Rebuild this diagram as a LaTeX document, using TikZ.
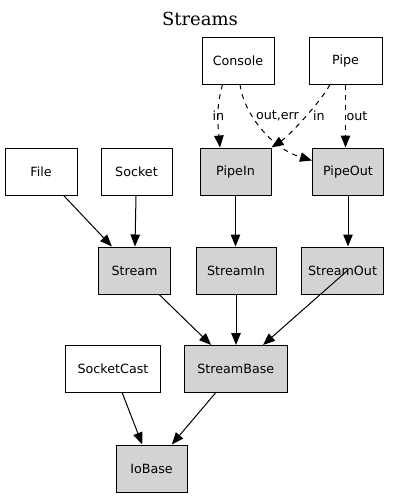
\documentclass[tikz,border=0pt]{standalone}
\usepackage{fontspec}
\setmainfont{DejaVu Sans}
\newfontfamily\titlefont{DejaVu Serif}
\usetikzlibrary{arrows.meta}
\definecolor{boxgray}{HTML}{D3D3D3}
\begin{document}
\begin{tikzpicture}[x=1pt,y=-1pt,
  box/.style={draw=black,line width=1pt,minimum height=47pt,inner sep=0pt,font=\fontsize{12.7}{15}\selectfont},
  plain/.style={box,fill=white},
  cls/.style={box,fill=boxgray},
  arr/.style={-{Triangle[length=12pt,width=9.5pt]},line width=1pt},
  dsh/.style={arr,dash pattern=on 5pt off 5pt},
  lbl/.style={font=\fontsize{12.7}{15}\selectfont,inner sep=0pt}]
\useasboundingbox (0,0) rectangle (400,499);
\node[font=\titlefont\fontsize{18}{20}\selectfont] (title) at (200,19) {Streams};
% row 1
\node[plain,minimum width=72] (console) at (238,60.5) {Console};
\node[plain,minimum width=73] (pipe) at (345.5,60.5) {Pipe};
% row 2
\node[plain,minimum width=72] (file) at (41,171.5) {File};
\node[plain,minimum width=71] (socket) at (136.5,171.5) {Socket};
\node[cls,minimum width=71] (pipein) at (235.5,171.5) {PipeIn};
\node[cls,minimum width=71] (pipeout) at (348,171.5) {PipeOut};
% row 3
\node[cls,minimum width=72] (stream) at (134.5,270.5) {Stream};
\node[cls,minimum width=80] (streamin) at (236,270.5) {StreamIn};
\node[cls,minimum width=82] (streamout) at (342.5,270.5) {StreamOut};
% row 4
\node[plain,minimum width=95] (socketcast) at (113,369) {SocketCast};
\node[cls,minimum width=103] (streambase) at (235.8,369) {StreamBase};
% row 5
\node[cls,minimum width=71] (iobase) at (151.5,468.5) {IoBase};
% dashed edges
\draw[dsh] ([xshift=-15.5pt]console.south) .. controls +(-7,25) and +(-2,-22) .. ([xshift=-15.5pt]pipein.north);
\draw[dsh] ([xshift=2pt]console.south) .. controls +(4,30) and +(-40,-12) .. ([yshift=11pt]pipeout.west);
\draw[dsh] ([xshift=-15.5pt]pipe.south) .. controls +(-9,17) and +(18,-12) .. (pipein.north east);
\draw[dsh] (pipe.south) -- (pipe.south |- pipeout.north);
\node[lbl] (l1) at (218.5,116) {in};
\node[lbl] (l2) at (277.5,116) {out,err};
\node[lbl] (l3) at (319,116) {in};
\node[lbl] (l4) at (357,116) {out};
% solid edges
\draw[arr] (file) -- (stream);
\draw[arr] (socket) -- (stream);
\draw[arr] (pipein.south) -- (pipein.south |- streamin.north);
\draw[arr] (pipeout.south) -- (pipeout.south |- streamout.north);
\draw[arr] (stream) -- (streambase);
\draw[arr] (streamin.south) -- (streamin.south |- streambase.north);
\draw[arr] ([xshift=5pt]streamout.center) -- (streambase);
\draw[arr] (socketcast) -- (iobase);
\draw[arr] (streambase) -- (iobase);
\end{tikzpicture}
\end{document}
